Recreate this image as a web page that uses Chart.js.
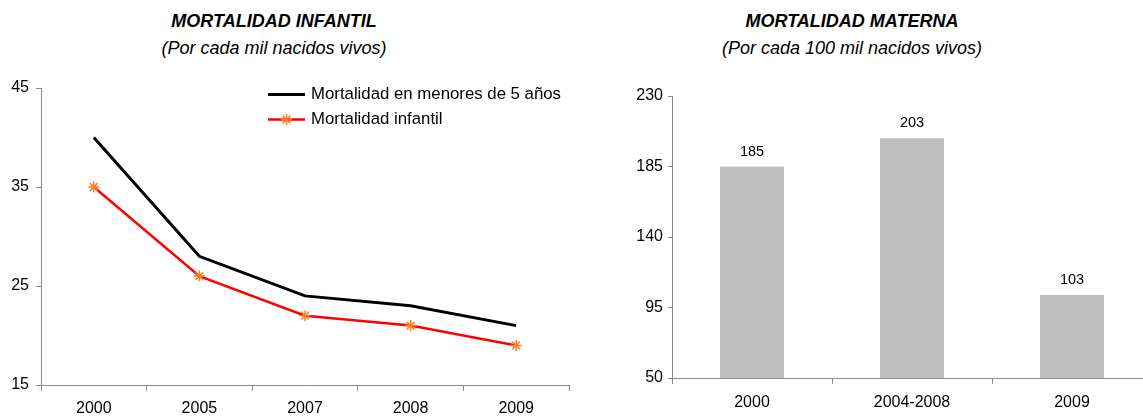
<!DOCTYPE html>
<html lang="es">
<head>
<meta charset="utf-8">
<title>Mortalidad infantil y materna</title>
<script src="https://cdn.jsdelivr.net/npm/chart.js@4.4.1/dist/chart.umd.min.js"></script>
<style>
    html, body {
        margin: 0;
        padding: 0;
        width: 1143px;
        height: 416px;
        overflow: hidden;
        background: #fff;
        font-family: 'Liberation Sans', Arial, sans-serif;
    }
    .titulo, .subtitulo {
        position: absolute;
        width: 500px;
        text-align: center;
        line-height: 22px;
        font-style: italic;
        color: #000;
        white-space: nowrap;
    }
    .titulo { font-weight: bold; font-size: 18px; top: 10px; }
    .subtitulo { font-size: 18px; top: 37px; }
    .caja {
        position: absolute;
        top: 0;
        height: 416px;
    }
</style>
</head>
<body>

<div class="titulo" style="left: 24px;">MORTALIDAD INFANTIL</div>
<div class="subtitulo" style="left: 24px;">(Por cada mil nacidos vivos)</div>
<div class="titulo" style="left: 602px;">MORTALIDAD MATERNA</div>
<div class="subtitulo" style="left: 602px;">(Por cada 100 mil nacidos vivos)</div>

<div class="caja" style="left: 0; width: 580px;"><canvas id="infantilChart"></canvas></div>
<div class="caja" style="left: 600px; width: 560px;"><canvas id="maternaChart"></canvas></div>

<script>
// datos del gráfico de mortalidad infantil
const aniosInfantil = ['2000', '2005', '2007', '2008', '2009'];
const menoresCinco = [40, 28, 24, 23, 21];
const mortInfantil = [35, 26, 22, 21, 19];
const ejeInfantil = { min: 15, max: 45, paso: 10 };

// datos del gráfico de mortalidad materna
const periodosMaterna = ['2000', '2004-2008', '2009'];
const mortMaterna = [185, 203, 103];
const ejeMaterna = { min: 50, max: 230, paso: 45 };

const fuente = "'Liberation Sans', Arial, sans-serif";
const gris = '#8c8c8c';

// leyenda dibujada dentro del area del gráfico (arriba a la derecha)
const leyendaInterna = {
    id: 'leyendaInterna',
    afterDraw(chart) {
        const ctx = chart.ctx;
        const area = chart.chartArea;
        const x0 = area.left + 227;
        const filas = [area.top + 6.5, area.top + 31.5];
        ctx.save();
        ctx.font = '16.8px ' + fuente;
        ctx.textBaseline = 'middle';
        ctx.fillStyle = '#000';
        chart.data.datasets.forEach((ds, i) => {
            const y = filas[i];
            ctx.strokeStyle = ds.borderColor;
            ctx.lineWidth = ds.borderWidth;
            ctx.beginPath();
            ctx.moveTo(x0, y);
            ctx.lineTo(x0 + 37, y);
            ctx.stroke();
            if (ds.pointRadius > 0) {
                ctx.strokeStyle = ds.pointBorderColor;
                ctx.fillStyle = ds.pointBackgroundColor;
                ctx.lineWidth = ds.pointBorderWidth;
                Chart.helpers.drawPoint(ctx, {
                    pointStyle: ds.pointStyle,
                    radius: ds.pointRadius,
                    borderWidth: ds.pointBorderWidth
                }, x0 + 18.5, y);
                ctx.fillStyle = '#000';
            }
            ctx.fillText(ds.label, x0 + 43, y);
        });
        ctx.restore();
    }
};

// etiquetas con el valor encima de cada barra
const etiquetasBarras = {
    id: 'etiquetasBarras',
    afterDatasetsDraw(chart) {
        const ctx = chart.ctx;
        const meta = chart.getDatasetMeta(0);
        ctx.save();
        ctx.font = '14.5px ' + fuente;
        ctx.fillStyle = '#000';
        ctx.textAlign = 'center';
        ctx.textBaseline = 'middle';
        meta.data.forEach((barra, i) => {
            ctx.fillText(chart.data.datasets[0].data[i], barra.x, barra.y - 15);
        });
        ctx.restore();
    }
};

function ejeY(rango, ancho, largoMarca, separacion) {
    return {
        min: rango.min,
        max: rango.max,
        afterFit: (scale) => { scale.width = ancho; },
        border: { color: gris, width: 1 },
        grid: { drawOnChartArea: false, drawTicks: true, tickLength: largoMarca, color: gris },
        ticks: {
            stepSize: rango.paso,
            color: '#000',
            padding: separacion,
            font: { family: fuente, size: 16 }
        }
    };
}

function ejeX(alto, separacion) {
    return {
        offset: true,
        afterFit: (scale) => { scale.height = alto; },
        border: { color: gris, width: 1 },
        grid: { offset: true, drawOnChartArea: false, drawTicks: true, tickLength: 6, color: gris },
        ticks: {
            color: '#000',
            padding: separacion,
            maxRotation: 0,
            font: { family: fuente, size: 16 }
        }
    };
}

// gráfico de lineas
function crearInfantil() {
    const ctx = document.getElementById('infantilChart').getContext('2d');
    new Chart(ctx, {
        type: 'line',
        data: {
            labels: aniosInfantil,
            datasets: [
                {
                    label: 'Mortalidad en menores de 5 años',
                    data: menoresCinco,
                    borderColor: '#000000',
                    borderWidth: 3,
                    pointRadius: 0,
                    tension: 0,
                    fill: false
                },
                {
                    label: 'Mortalidad infantil',
                    data: mortInfantil,
                    borderColor: '#ff0000',
                    borderWidth: 2.5,
                    pointStyle: 'star',
                    pointRadius: 5.5,
                    pointBorderWidth: 1.5,
                    pointBorderColor: '#ff8020',
                    pointBackgroundColor: '#ff8020',
                    tension: 0,
                    fill: false
                }
            ]
        },
        options: {
            responsive: true,
            maintainAspectRatio: false,
            animation: false,
            layout: { padding: { top: 88, right: 11, left: 0, bottom: 0 } },
            plugins: { legend: { display: false }, tooltip: { enabled: false }, title: { display: false } },
            scales: {
                x: ejeX(31, 8),
                y: ejeY(ejeInfantil, 41, 5, 7)
            }
        },
        plugins: [leyendaInterna]
    });
}

// gráfico de barras
function crearMaterna() {
    const ctx = document.getElementById('maternaChart').getContext('2d');
    new Chart(ctx, {
        type: 'bar',
        data: {
            labels: periodosMaterna,
            datasets: [
                {
                    label: 'Mortalidad materna',
                    data: mortMaterna,
                    backgroundColor: '#bfbfbf',
                    borderWidth: 0,
                    categoryPercentage: 1,
                    barPercentage: 0.4
                }
            ]
        },
        options: {
            responsive: true,
            maintainAspectRatio: false,
            animation: false,
            layout: { padding: { top: 96, right: 8, left: 0, bottom: 0 } },
            plugins: { legend: { display: false }, tooltip: { enabled: false } },
            scales: {
                x: ejeX(38, 9),
                y: ejeY(ejeMaterna, 72, 4, 5)
            }
        },
        plugins: [etiquetasBarras]
    });
}

crearInfantil();
crearMaterna();
</script>
</body>
</html>
